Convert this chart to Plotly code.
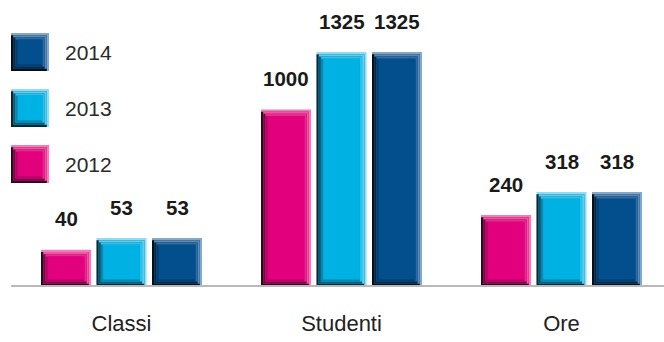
import plotly.graph_objects as go

# ---------------- data ----------------
CATEGORIES = ["Classi", "Studenti", "Ore"]
YEARS = ["2012", "2013", "2014"]
V2012 = [40, 1000, 240]
V2013 = [53, 1325, 318]
V2014 = [53, 1325, 318]
SERIES = [V2012, V2013, V2014]
LEGEND_ORDER = ["2014", "2013", "2012"]

# ---------------- styling ----------------
FACE = {"2012": "#E3007D", "2013": "#00B2E4", "2014": "#034F8E"}
LIGHT = {  # outer -> inner (top / right bevel)
    "2012": ["#F27BB8", "#EE55A3", "#E92B90"],
    "2013": ["#8FDDF5", "#5ECFF0", "#2EC1EA"],
    "2014": ["#86A8C8", "#5A8AB5", "#2E6CA1"],
}
DARK = {  # outer -> inner (left / bottom bevel)
    "2012": ["#3A0020", "#7C0045", "#B8006A"],
    "2013": ["#002A3A", "#005A78", "#0089B2"],
    "2014": ["#00101F", "#00284A", "#003D70"],
}
FONT = "Liberation Sans, Arial, Helvetica, sans-serif"

W, H = 664, 342
MB = 56
PLOT_H = H - MB
PX_PER_CAT = 220.0
X0_PX = 121.5
Y_TOPS = [316, 1620, 968]          # axis range per category (independent scales)
BAR_W = 50 / PX_PER_CAT
PITCH = 55.5 / PX_PER_CAT
STEP_PX = 2.2
NSTEP = 3

fig = go.Figure()
annotations = []

for i, cat in enumerate(CATEGORIES):
    yname = "y" if i == 0 else f"y{i+1}"
    sx = STEP_PX / PX_PER_CAT
    sy = STEP_PX * Y_TOPS[i] / PLOT_H
    vals = [s[i] for s in SERIES]
    centers = [(j - 1) * PITCH for j in range(len(YEARS))]

    def add(base, height, offs, widths, colors, hover=False):
        fig.add_trace(go.Bar(
            x=[i] * len(vals), y=height, base=base, offset=offs, width=widths,
            marker=dict(color=colors, line=dict(width=0)), opacity=1,
            yaxis=yname, showlegend=False,
            hoverinfo="skip" if not hover else "text",
            text=None if not hover else [f"{cat} {y}: {v}" for y, v in zip(YEARS, vals)],
            textposition="none",
        ))

    for k in range(NSTEP):
        ex, ey = k * sx, k * sy
        add([ey] * 3, [v - 2 * ey for v in vals],
            [c - BAR_W / 2 + ex for c in centers], [BAR_W - 2 * ex] * 3,
            [LIGHT[y][k] for y in YEARS])
        add([ey] * 3, [v - 2 * ey - sy for v in vals],
            [c - BAR_W / 2 + ex for c in centers], [BAR_W - 2 * ex - sx] * 3,
            [DARK[y][k] for y in YEARS])
    ex, ey = NSTEP * sx, NSTEP * sy
    add([ey] * 3, [v - 2 * ey for v in vals],
        [c - BAR_W / 2 + ex for c in centers], [BAR_W - 2 * ex] * 3,
        [FACE[y] for y in YEARS], hover=True)

    for j, v in enumerate(vals):
        annotations.append(dict(
            x=i + centers[j], y=v, xref="x", yref=yname, yshift=31,
            text=f"<b>{v}</b>", showarrow=False, yanchor="middle",
            font=dict(size=20.5, color="#1a1a1a", family=FONT)))

# ---------------- legend (drawn) ----------------
shapes = []
LEG_L, LEG_SIZE, LEG_TOP0, LEG_GAP = 11, 38, 33, 56
for r, y in enumerate(LEGEND_ORDER):
    top = LEG_TOP0 + r * LEG_GAP
    L, R, T, B = LEG_L, LEG_L + LEG_SIZE, top, top + LEG_SIZE

    def rect(x0, x1, py0, py1, col):
        shapes.append(dict(type="rect", xref="paper", yref="paper",
                           xsizemode="pixel", ysizemode="pixel", xanchor=0, yanchor=1,
                           x0=x0, x1=x1, y0=-py1, y1=-py0,
                           fillcolor=col, line=dict(width=0), layer="above"))
    for k in range(NSTEP):
        e = k * STEP_PX
        rect(L + e, R - e, T + e, B - e, LIGHT[y][k])
        rect(L + e, R - e - STEP_PX, T + e + STEP_PX, B - e, DARK[y][k])
    e = NSTEP * STEP_PX
    rect(L + e, R - e, T + e, B - e, FACE[y])
    annotations.append(dict(
        x=63 / W, y=1, xref="paper", yref="paper", yshift=-(top + LEG_SIZE / 2),
        xanchor="left", yanchor="middle", text=y, showarrow=False,
        font=dict(size=21, color="#2a2a2a", family=FONT)))

# baseline
shapes.append(dict(type="line", xref="paper", yref="paper", x0=11 / W, x1=1, y0=0, y1=0,
                   line=dict(color="#b9b9b9", width=2), layer="above"))

fig.update_layout(
    width=W, height=H, margin=dict(l=0, r=0, t=0, b=MB),
    paper_bgcolor="white", plot_bgcolor="white",
    barmode="overlay", showlegend=False,
    font=dict(family=FONT),
    xaxis=dict(range=[-X0_PX / PX_PER_CAT, (W - X0_PX) / PX_PER_CAT],
               tickvals=list(range(len(CATEGORIES))), ticktext=CATEGORIES,
               showgrid=False, zeroline=False, showline=False, ticks="",
               tickfont=dict(size=22, color="#222222", family=FONT),
               ticklabelstandoff=22, fixedrange=True),
    yaxis=dict(range=[0, Y_TOPS[0]], visible=False, fixedrange=True),
    yaxis2=dict(range=[0, Y_TOPS[1]], visible=False, overlaying="y", fixedrange=True),
    yaxis3=dict(range=[0, Y_TOPS[2]], visible=False, overlaying="y", fixedrange=True),
    shapes=shapes, annotations=annotations,
)

fig.write_html("out.html")
